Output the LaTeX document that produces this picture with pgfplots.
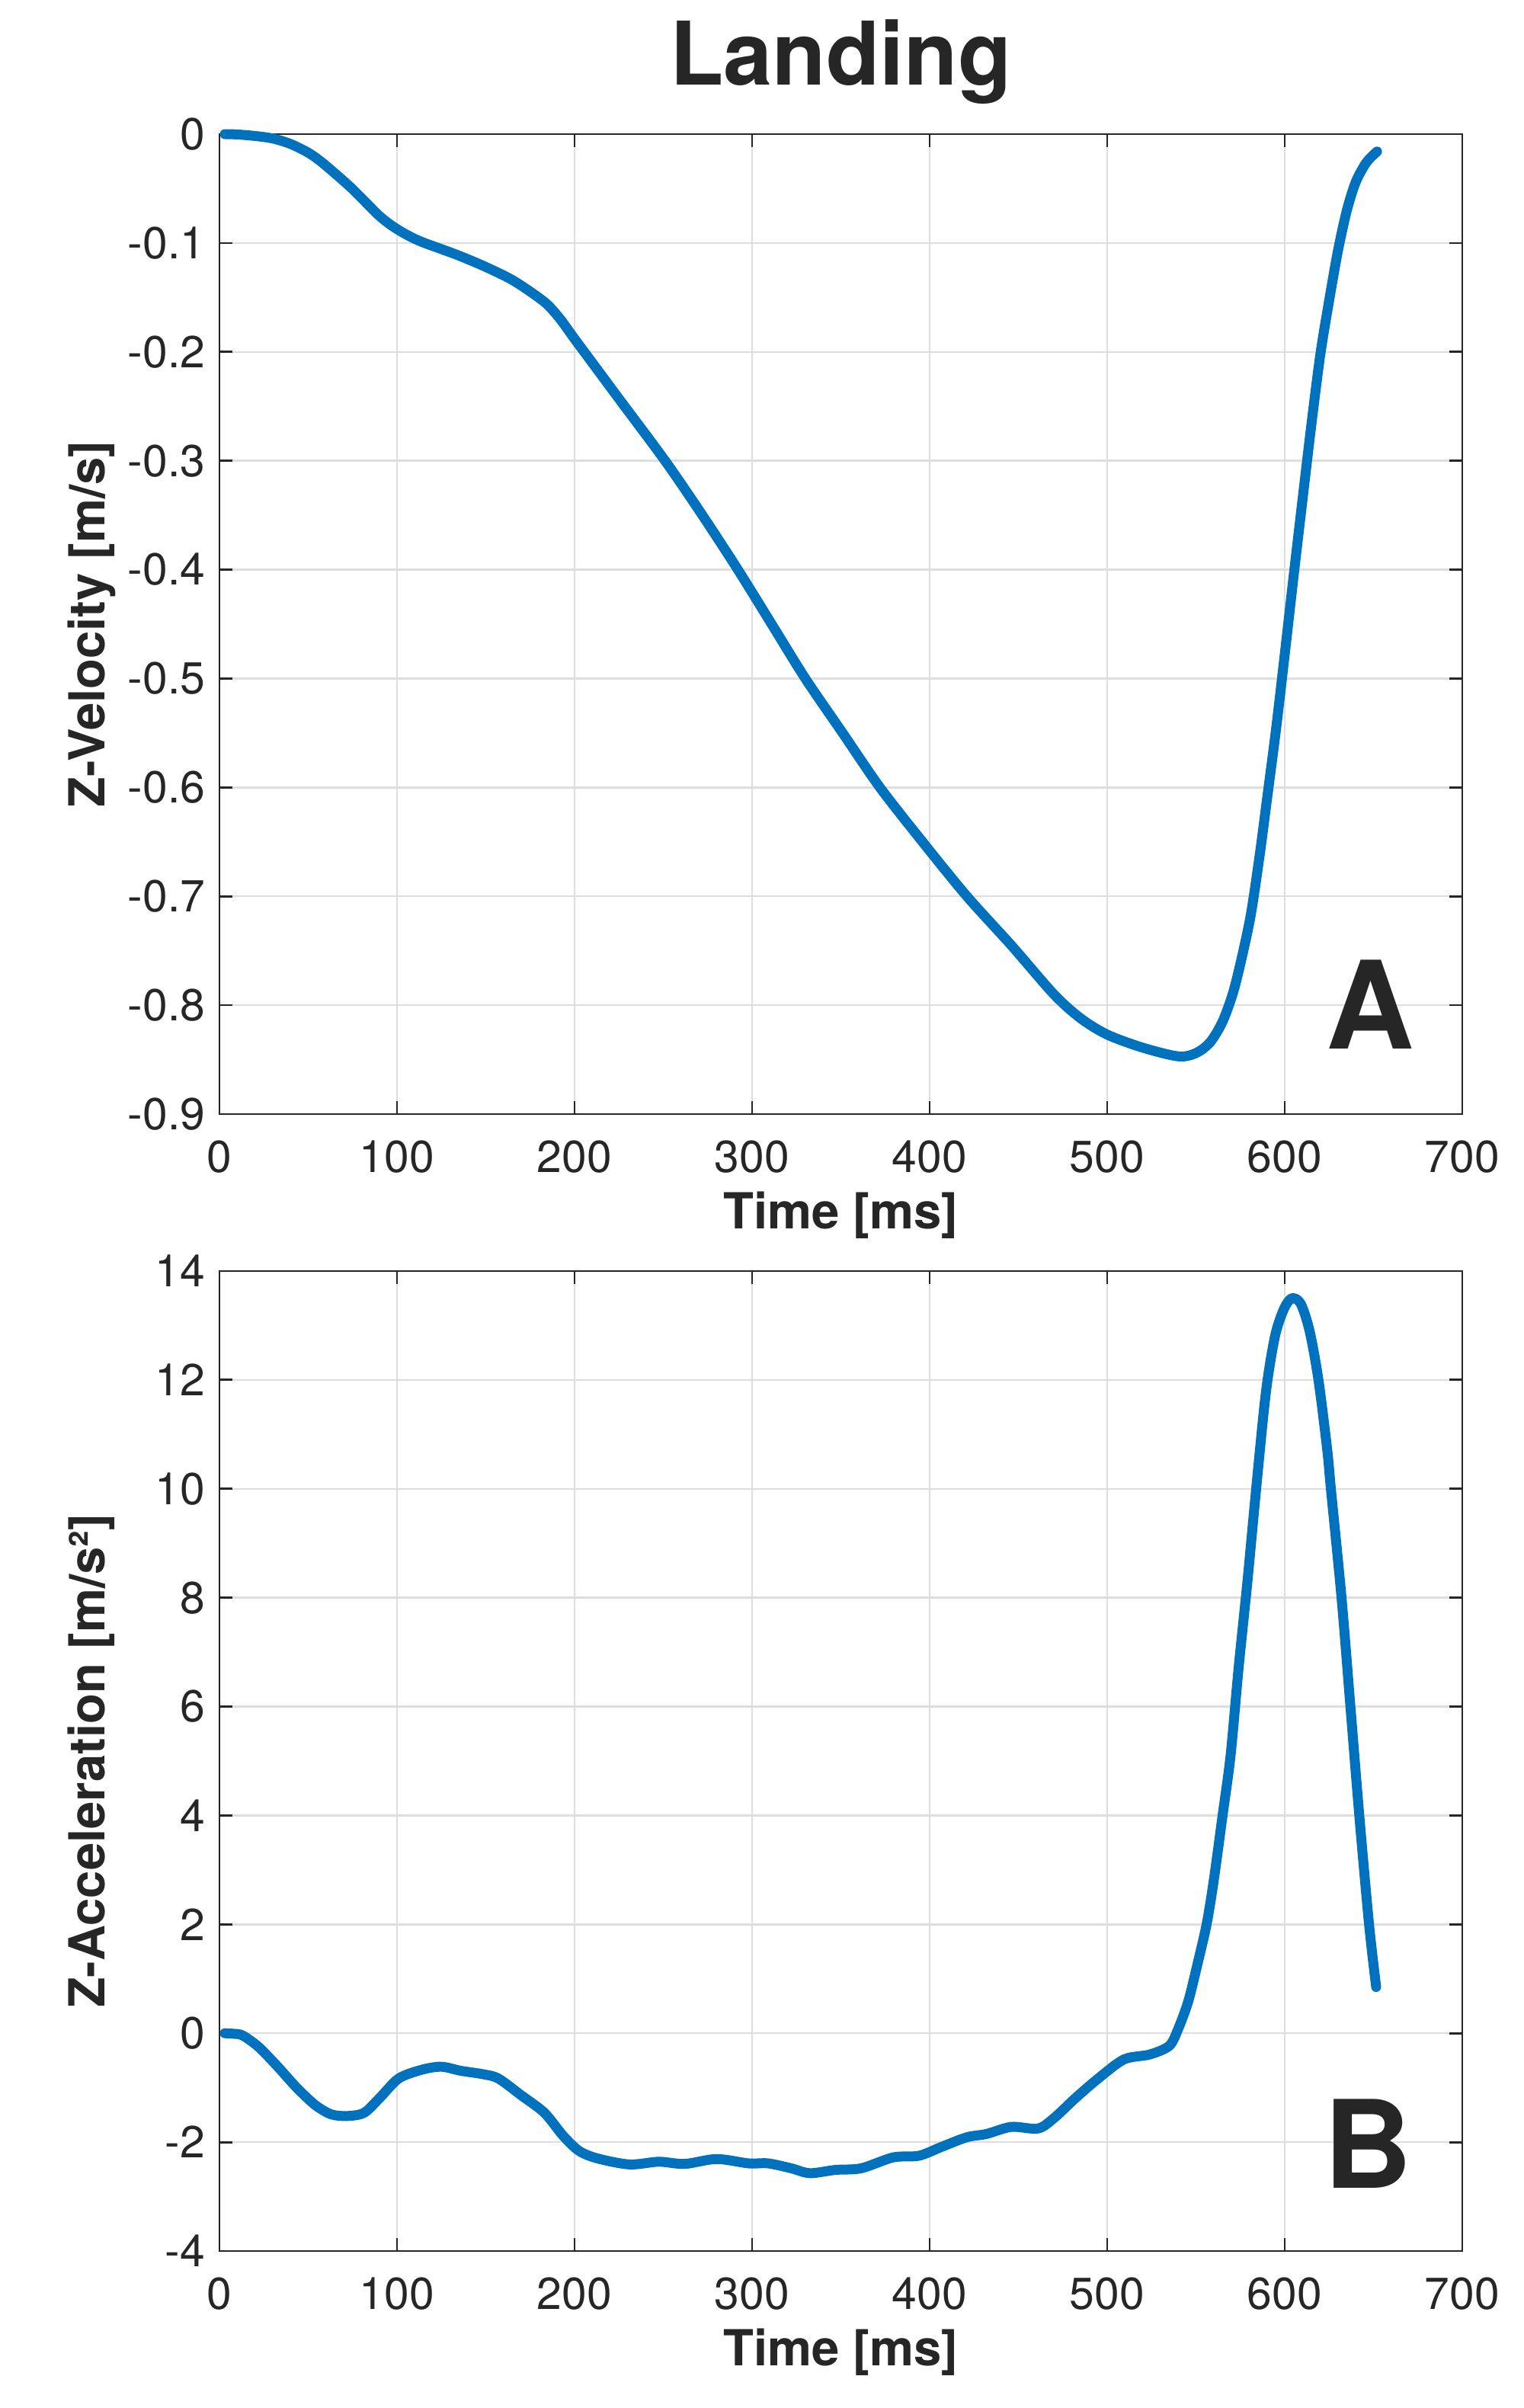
\documentclass[border=0pt]{standalone}
\usepackage{fontspec}
\setmainfont{TeX Gyre Heros}
\usepackage{pgfplots}
\pgfplotsset{compat=1.18}
\definecolor{mblue}{HTML}{0072BD}
\definecolor{mtext}{HTML}{262626}
\definecolor{mgrid}{HTML}{DEDEDE}

\pgfplotsset{
  mystyle/.style={
    scale only axis, width=407.75pt, height=321.5pt,
    xmin=0, xmax=700,
    xtick={0,100,200,300,400,500,600,700},
    xticklabels={0,100,200,300,400,500,600,700},
    axis line style={mtext, line width=0.7pt},
    major tick style={mtext, line width=0.7pt},
    major tick length=4.25pt,
    tick align=inside, tick pos=both,
    grid=major, major grid style={mgrid, line width=0.6pt},
    tick label style={font=\fontsize{14.7}{16}\selectfont, text=mtext},
    xticklabel style={anchor=north, inner sep=0pt, yshift=-8.5pt},
    yticklabel style={anchor=east, inner sep=0pt, xshift=-4.5pt},
    label style={font=\bfseries\fontsize{16.3}{18}\selectfont, text=mtext, inner sep=0pt},
    xlabel style={at={(axis description cs:0.5,-0.11742)}, anchor=base},
    ylabel style={at={(axis description cs:-0.09258,0.5)}, anchor=base},
    clip=false,
  }
}

\pgfplotstableread{
t v
3 0
10 -0.0003
20 -0.0017
30 -0.004
40 -0.009
50 -0.017
57 -0.025
65 -0.036
74 -0.049
82 -0.062
90 -0.075
97 -0.084
105 -0.092
114 -0.099
134 -0.111
150 -0.122
165 -0.134
178 -0.148
185 -0.157
192 -0.170
200 -0.188
210 -0.210
225 -0.243
251 -0.300
272 -0.350
292 -0.400
311 -0.450
330 -0.500
351 -0.550
372 -0.600
396 -0.650
421 -0.700
446 -0.745
470 -0.790
485 -0.812
500 -0.827
520 -0.839
540 -0.847
550 -0.844
558 -0.834
565 -0.815
571 -0.788
576 -0.755
581 -0.716
586 -0.661
590 -0.611
595 -0.548
600 -0.478
605 -0.406
610 -0.336
615 -0.267
620 -0.203
625 -0.153
630 -0.107
635 -0.070
640 -0.044
646 -0.026
652 -0.016
}\veltable

\pgfplotstableread{
t a
3 0
8 -0.01
13 -0.04
22 -0.25
33 -0.62
43.5 -1.0
54 -1.32
63 -1.49
72 -1.52
81.5 -1.46
90.5 -1.18
101 -0.83
114 -0.67
125 -0.615
136 -0.69
148 -0.75
157 -0.83
170 -1.14
183 -1.46
193.5 -1.88
202.5 -2.16
213 -2.30
231 -2.41
247.5 -2.36
262 -2.40
280 -2.31
298 -2.39
309 -2.39
322 -2.48
332.5 -2.57
347 -2.51
361.5 -2.48
379.5 -2.28
394 -2.25
406.5 -2.09
421 -1.91
432 -1.85
446 -1.72
461 -1.75
470 -1.56
482.5 -1.18
495 -0.83
509.5 -0.48
524 -0.39
535 -0.23
540 0.08
545.7 0.59
551 1.29
556 2.0
560 2.8
565 4.0
569.5 5.1
574 6.7
579 8.3
584.5 10.2
589.5 11.8
594.5 12.8
599.5 13.3
604 13.5
609 13.4
614 12.9
619 12.0
624 10.7
626 10.0
632 8.0
637 6.0
642 4.0
647.5 2.0
651.5 0.85
}\acctable

\begin{document}
\begin{tikzpicture}
\useasboundingbox (0,0) rectangle (500pt,790pt);
\begin{axis}[mystyle,
  at={(72pt,424.5pt)}, anchor=south west,
  ymin=-0.9, ymax=0,
  ytick={-0.9,-0.8,-0.7,-0.6,-0.5,-0.4,-0.3,-0.2,-0.1,0},
  yticklabels={-0.9,-0.8,-0.7,-0.6,-0.5,-0.4,-0.3,-0.2,-0.1,0},
  xlabel={Time [ms]},
  ylabel={Z-Velocity [m/s]},
  title={Landing},
  title style={at={(axis description cs:0.5,1.05054)}, anchor=base, inner sep=0pt, yshift=-6pt,
    font=\bfseries\fontsize{28.8}{32}\selectfont, text=mtext},
]
\addplot[mblue, line width=3.25pt, line cap=round, line join=round, smooth, tension=0.5] table[x=t,y=v] {\veltable};
\node[anchor=base east, inner sep=0pt, text=mtext, font=\bfseries\fontsize{40}{44}\selectfont] at (axis description cs:0.96199,0.0661) {A};
\end{axis}
\begin{axis}[mystyle,
  at={(72pt,51.5pt)}, anchor=south west,
  ymin=-4, ymax=14,
  ytick={-4,-2,0,2,4,6,8,10,12,14},
  yticklabels={-4,-2,0,2,4,6,8,10,12,14},
  xlabel={Time [ms]},
  ylabel={Z-Acceleration [m/s²]},
]
\addplot[mblue, line width=3.25pt, line cap=round, line join=round, smooth, tension=0.5] table[x=t,y=a] {\acctable};
\node[anchor=base east, inner sep=0pt, text=mtext, font=\bfseries\fontsize{40}{44}\selectfont] at (axis description cs:0.96015,0.0645) {B};
\end{axis}
\end{tikzpicture}
\end{document}
